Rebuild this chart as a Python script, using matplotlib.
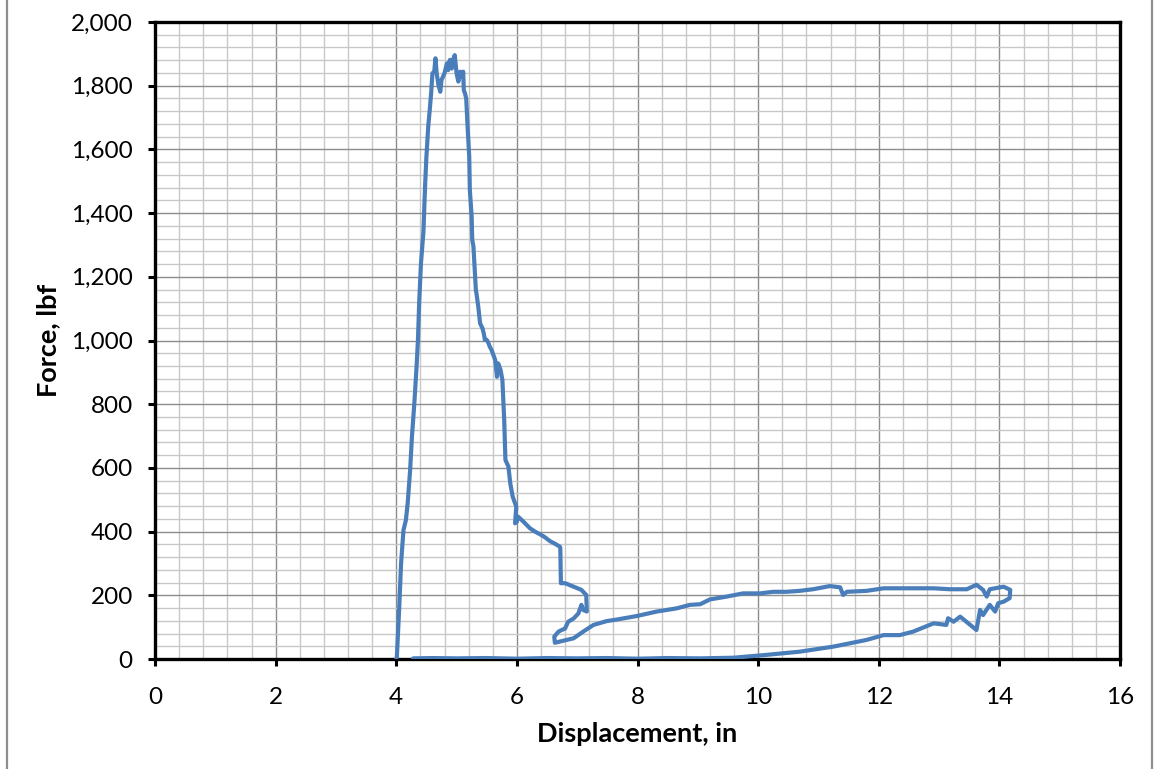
import matplotlib
matplotlib.use("Agg")
import matplotlib.pyplot as plt
from matplotlib.ticker import MultipleLocator, FuncFormatter
from matplotlib.lines import Line2D

# Force–displacement record: loading, post-peak softening, reload loop, return
displacement_in = [
    4.00, 4.01, 4.05, 4.08, 4.12, 4.16, 4.19, 4.23, 4.26, 4.30, 4.34, 4.36, 4.38,
    4.41, 4.45, 4.48, 4.50, 4.53, 4.56, 4.58, 4.60, 4.63, 4.65, 4.67, 4.70, 4.73,
    4.75, 4.80, 4.84, 4.86, 4.89, 4.92, 4.95, 4.97, 5.00, 5.03, 5.06, 5.09, 5.11,
    5.12, 5.14, 5.16, 5.18, 5.21, 5.22, 5.25, 5.26, 5.28, 5.32, 5.33, 5.36, 5.39,
    5.43, 5.45, 5.47, 5.50, 5.53, 5.55, 5.58, 5.60, 5.64, 5.67, 5.69, 5.73, 5.76,
    5.79, 5.81, 5.86, 5.89, 5.93, 5.99, 5.97, 6.00, 6.02, 6.11, 6.22, 6.30, 6.38,
    6.46, 6.55, 6.63, 6.71, 6.72, 6.73, 6.80, 6.94, 7.07, 7.15, 7.16, 7.10, 7.07,
    7.02, 6.94, 6.85, 6.80, 6.69, 6.62, 6.63, 6.72, 6.94, 7.10, 7.27, 7.49, 7.66,
    7.99, 8.32, 8.48, 8.65, 8.87, 9.04, 9.20, 9.48, 9.75, 10.03, 10.25, 10.47,
    10.69, 10.91, 11.19, 11.36, 11.41, 11.47, 11.80, 12.08, 12.35, 12.63, 12.91,
    13.18, 13.46, 13.62, 13.73, 13.79, 13.84, 14.07, 14.18, 14.17, 14.07, 13.98,
    13.93, 13.84, 13.73, 13.68, 13.62, 13.35, 13.24, 13.15, 13.12, 12.91, 12.57,
    12.35, 12.08, 11.80, 11.25, 10.69, 10.14, 9.59, 9.04, 8.50, 8.00, 7.50, 7.00,
    6.50, 6.00, 5.50, 5.00, 4.60, 4.28,
]
force_lbf = [
    0, 7, 164, 301, 405, 436, 490, 593, 698, 803, 928, 1002, 1118,
    1243, 1340, 1494, 1577, 1671, 1734, 1781, 1839, 1844, 1886, 1839, 1802, 1781,
    1818, 1839, 1870, 1849, 1881, 1854, 1886, 1896, 1839, 1813, 1844, 1829, 1844,
    1786, 1776, 1760, 1682, 1577, 1473, 1389, 1316, 1295, 1158, 1148, 1106, 1054,
    1038, 1023, 1002, 1002, 991, 981, 970, 960, 939, 886, 928, 907, 876,
    750, 625, 604, 552, 510, 478, 426, 431, 447, 431, 410, 400, 392,
    383, 370, 362, 353, 350, 238, 238, 227, 217, 201, 149, 154, 170,
    143, 127, 117, 96, 86, 70, 51, 55, 65, 86, 107, 119, 124,
    135, 149, 154, 159, 170, 172, 187, 196, 206, 206, 211, 211,
    214, 219, 229, 225, 201, 211, 214, 222, 222, 222, 222,
    219, 219, 233, 217, 196, 219, 227, 217, 191, 180, 175,
    149, 170, 138, 154, 91, 133, 117, 128, 107, 112, 86,
    75, 75, 60, 39, 23, 13, 4, 2, 3, 1, 3, 2,
    3, 1, 3, 2, 3, 2,
]

x_ticks = list(range(0, 17, 2))
y_ticks = list(range(0, 2001, 200))

line_color = "#4A7EBB"
plt.rcParams["font.family"] = ["Lato", "DejaVu Sans"]

fig = plt.figure(figsize=(11.56, 7.69), dpi=100)
ax = fig.add_axes([155 / 1156, 1 - 659 / 769, (1120 - 155) / 1156, (659 - 22) / 769])

ax.plot(displacement_in, force_lbf, color=line_color, linewidth=3.0,
        solid_joinstyle="round", solid_capstyle="round", zorder=3)

ax.set_xlim(0, 16)
ax.set_ylim(0, 2000)
ax.set_xticks(x_ticks)
ax.set_yticks(y_ticks)
ax.xaxis.set_minor_locator(MultipleLocator(0.4))
ax.yaxis.set_minor_locator(MultipleLocator(40))
ax.yaxis.set_major_formatter(FuncFormatter(lambda v, p: f"{int(v):,}"))

ax.grid(which="major", color="#8C8C8C", linewidth=1.0, zorder=0)
ax.grid(which="minor", color="#C8C8C8", linewidth=1.0, zorder=0)
ax.set_axisbelow(True)

for s in ax.spines.values():
    s.set_linewidth(2.4)
    s.set_color("black")

ax.tick_params(which="major", direction="out", length=5, width=2.2,
               color="black", labelsize=17.5, labelcolor="black")
ax.tick_params(axis="y", which="major", pad=11)
ax.tick_params(axis="x", which="major", pad=15)
ax.tick_params(which="minor", length=0)

ax.set_xlabel("Displacement, in", fontsize=19.5, fontweight="bold", labelpad=10)
ax.set_ylabel("Force, lbf", fontsize=19.5, fontweight="bold", labelpad=8)

# Outer chart-area border
for xf in (7 / 1156, 1152 / 1156):
    fig.add_artist(Line2D([xf, xf], [0, 1], transform=fig.transFigure,
                          color="#8E8E8E", linewidth=1.6))

fig.savefig("out.png", dpi=100)
